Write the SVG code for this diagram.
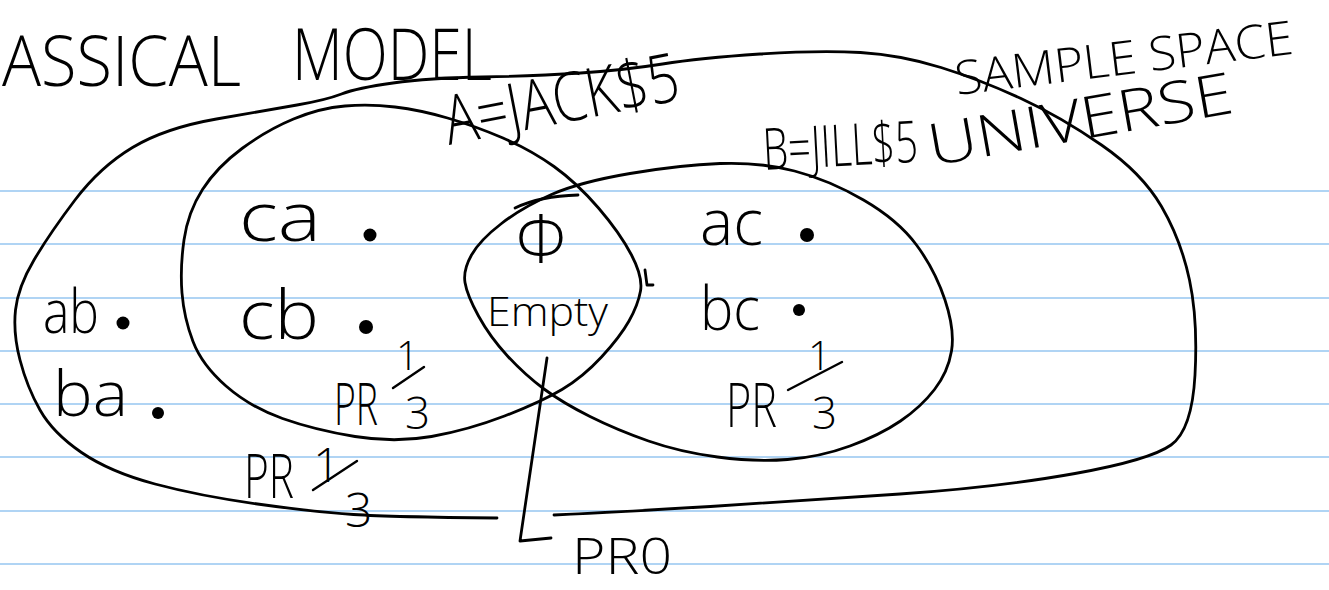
<svg xmlns="http://www.w3.org/2000/svg" width="1329" height="590" viewBox="0 0 1329 590">
<style>
.rule{stroke:#b0d4f4;stroke-width:2}
.ink{fill:none;stroke:#000;stroke-width:2.8;stroke-linecap:round;stroke-linejoin:round}
.bar{fill:none;stroke:#000;stroke-width:2.4;stroke-linecap:round}
.t{font-family:"Open Sans","Liberation Sans",sans-serif;font-weight:300;fill:#000}
.dot{fill:#000}
</style>
<rect width="1329" height="590" fill="#fff"/>
<g id="ruled-paper">
<line class="rule" x1="0" y1="191" x2="1329" y2="191"/>
<line class="rule" x1="0" y1="244" x2="1329" y2="244"/>
<line class="rule" x1="0" y1="298" x2="1329" y2="298"/>
<line class="rule" x1="0" y1="351" x2="1329" y2="351"/>
<line class="rule" x1="0" y1="404" x2="1329" y2="404"/>
<line class="rule" x1="0" y1="457" x2="1329" y2="457"/>
<line class="rule" x1="0" y1="511" x2="1329" y2="511"/>
<line class="rule" x1="0" y1="564" x2="1329" y2="564"/>
</g>
<g id="title">
<text class="t" x="2" y="86" font-size="70" textLength="239" lengthAdjust="spacingAndGlyphs">ASSICAL</text>
<text class="t" x="292" y="80" font-size="72" textLength="200" lengthAdjust="spacingAndGlyphs">MODEL</text>
</g>
<g id="universe">
<path class="ink" d="M554,515 Q621,512 710.5,506.5 Q800,501 900,494 Q1000,487 1075,473.5 Q1150,460 1171,445 Q1192,430 1195,375 Q1198,320 1189.5,280 Q1181,240 1161.5,206.5 Q1142,173 1101.5,145 Q1061,117 1021,98.5 Q981,80 941,67.5 Q901,55 860.5,52.5 Q820,50 760,54 Q700,58 662.5,64 Q625,70 580.5,73 Q536,76 482.5,77 Q429,78 393,83 Q357,88 341.5,94 Q326,100 297,105 Q268,110 216.5,119 Q165,128 132.5,147.5 Q100,167 75,200 Q50,233 34,260 Q18,287 15.5,310 Q13,333 20,360 Q27,387 40,410 Q53,433 81.5,452.5 Q110,472 155,484 Q200,496 257.5,504 Q315,512 353.5,514.5 Q392,517 497,518"/>
<text class="t" x="957" y="95" font-size="47" textLength="340" lengthAdjust="spacingAndGlyphs" transform="rotate(-7 957 95)">SAMPLE SPACE</text>
<text class="t" x="932" y="166" font-size="58" textLength="308" lengthAdjust="spacingAndGlyphs" transform="rotate(-10 932 166)">UNIVERSE</text>
<text class="t" x="43" y="333" font-size="60" textLength="56" lengthAdjust="spacingAndGlyphs">ab</text>
<circle class="dot" cx="123" cy="323" r="6.5"/>
<text class="t" x="53" y="416" font-size="62" textLength="75" lengthAdjust="spacingAndGlyphs">ba</text>
<circle class="dot" cx="158" cy="413" r="6"/>
<text class="t" x="244" y="498" font-size="60" textLength="50" lengthAdjust="spacingAndGlyphs">PR</text>
<text class="t" x="313" y="482" font-size="48">1</text>
<line class="bar" x1="313" y1="490" x2="357" y2="461"/>
<text class="t" x="345" y="527" font-size="48">3</text>
</g>
<g id="set-A">
<path class="ink" d="M182,293 Q180,268 184,240 Q188,212 202.5,189.5 Q217,167 242,148.5 Q267,130 293.5,119 Q320,108 345,106 Q370,104 395,107 Q420,110 447.5,118 Q475,126 503,138 Q531,150 554,166.5 Q577,183 598.5,208 Q620,233 631.5,255 Q643,277 640.5,291 Q638,305 629,321 Q620,337 601.5,357 Q583,377 562,389.5 Q541,402 504.5,416 Q468,430 431.5,436.5 Q395,443 355,436.5 Q315,430 282.5,418.5 Q250,407 226,386 Q202,365 193,341.5 Q184,318 182,293 Z"/>
<path class="ink" d="M645,270 L647,285 L653,285"/>
<text class="t" x="449" y="145" font-size="68" textLength="238" lengthAdjust="spacingAndGlyphs" transform="rotate(-11 449 145)">A=JACK$5</text>
<text class="t" x="239" y="241" font-size="68" textLength="82" lengthAdjust="spacingAndGlyphs">ca</text>
<circle class="dot" cx="370" cy="235" r="6.5"/>
<text class="t" x="239" y="339" font-size="68" textLength="80" lengthAdjust="spacingAndGlyphs">cb</text>
<circle class="dot" cx="366" cy="327" r="7"/>
<text class="t" x="334" y="425" font-size="58" textLength="44" lengthAdjust="spacingAndGlyphs">PR</text>
<text class="t" x="396" y="370" font-size="40">1</text>
<line class="bar" x1="393" y1="388" x2="424" y2="367"/>
<text class="t" x="405" y="429" font-size="44">3</text>
</g>
<g id="set-B">
<path class="ink" d="M465,282.5 Q463,270 471.5,255 Q480,240 501.5,223.5 Q523,207 551.5,194.5 Q580,182 630,173.5 Q680,165 720,163.5 Q760,162 794.5,171 Q829,180 863.5,200 Q898,220 916.5,245 Q935,270 945,300 Q955,330 951.5,351 Q948,372 934.5,389.5 Q921,407 900.5,421 Q880,435 850,446 Q820,457 787.5,459.5 Q755,462 717.5,457 Q680,452 648.5,441 Q617,430 590,416.5 Q563,403 544,389 Q525,375 507.5,356 Q490,337 478.5,316 Q467,295 465,282.5 Z"/>
<text class="t" x="764" y="170" font-size="58" textLength="155" lengthAdjust="spacingAndGlyphs" transform="rotate(-3 764 170)">B=JILL$5</text>
<text class="t" x="700" y="245" font-size="64" textLength="63" lengthAdjust="spacingAndGlyphs">ac</text>
<circle class="dot" cx="807" cy="235" r="7"/>
<text class="t" x="700" y="330" font-size="60" textLength="60" lengthAdjust="spacingAndGlyphs">bc</text>
<circle class="dot" cx="799" cy="310" r="6"/>
<text class="t" x="726" y="427" font-size="60" textLength="51" lengthAdjust="spacingAndGlyphs">PR</text>
<text class="t" x="808" y="370" font-size="40">1</text>
<line class="bar" x1="788" y1="390" x2="842" y2="362"/>
<text class="t" x="812" y="429" font-size="44">3</text>
</g>
<g id="intersection">
<path class="ink" d="M515,208 Q540,196 578,195"/>
<text class="t" x="541" y="262" font-size="66" text-anchor="middle">Φ</text>
<text class="t" x="487" y="326" font-size="40" textLength="121" lengthAdjust="spacingAndGlyphs">Empty</text>
</g>
<g id="connectors">
<path class="ink" d="M547,358 L520,541 L551,538"/>
</g>
<g id="pr-zero">
<text class="t" x="572" y="574" font-size="50" textLength="100" lengthAdjust="spacingAndGlyphs">PR0</text>
</g>
</svg>
